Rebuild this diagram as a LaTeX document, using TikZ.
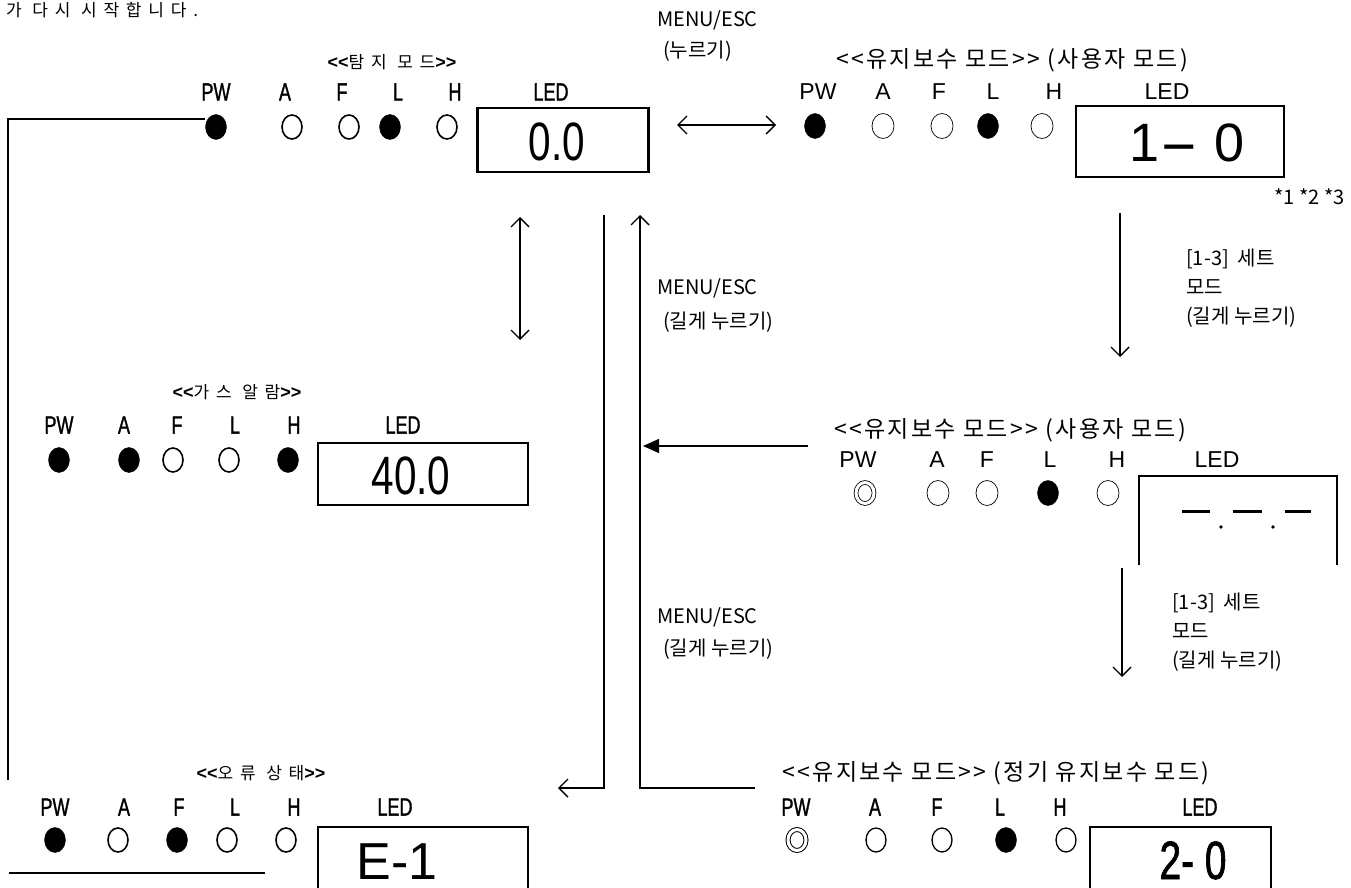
\documentclass[tikz,border=0pt]{standalone}
\usepackage{fontspec}
\setmainfont{Liberation Sans}
\newfontfamily\kr{Noto Sans CJK KR}
\newfontfamily\krt[LetterSpace=10]{Noto Sans CJK KR}
\newfontfamily\krsp[LetterSpace=40]{Noto Sans CJK KR}
\newfontfamily\cond[FakeStretch=0.72,FakeBold=1.2]{Liberation Sans}
\newfontfamily\condn[FakeStretch=0.75]{Liberation Sans}
\usetikzlibrary{arrows.meta,shapes.geometric}
\newcommand{\ltitle}[1]{{\bfseries\fontsize{18}{18}\selectfont<\kern0pt<}{\krsp #1}{\bfseries\fontsize{18}{18}\selectfont>\kern0pt>}}
\tikzset{
  lblc/.style={font=\cond\fontsize{25}{25}\selectfont, inner sep=0pt},
  lblt/.style={font=\fontsize{23}{23}\selectfont, inner sep=0pt},
  ttl/.style={font=\fontsize{17}{17}\selectfont, inner sep=0pt},
  ttlr/.style={font=\krt\fontsize{23}{23}\selectfont, inner sep=0pt},
  menu/.style={font=\kr\fontsize{20}{20}\selectfont, inner sep=0pt, anchor=west},
  note/.style={font=\kr\fontsize{20}{29}\selectfont, inner sep=0pt, align=left},
  ledon/.style={ellipse, draw, fill=black, minimum width=21pt, minimum height=25pt, inner sep=0pt},
  ledoff/.style={ellipse, draw, line width=1.6pt, minimum width=20pt, minimum height=24pt, inner sep=0pt},
  ledofft/.style={ellipse, draw, line width=0.7pt, minimum width=22pt, minimum height=25pt, inner sep=0pt},
  ledbl/.style={ellipse, draw, line width=0.8pt, double, double distance=3pt, minimum width=18pt, minimum height=21pt, inner sep=0pt},
  ledbox/.style={draw, line width=2.2pt, inner sep=0pt},
  openbox/.style={line width=2.2pt},
  conn/.style={line width=1.4pt},
  oarr/.style={conn, -{Straight Barb[length=9pt,width=18pt,line width=1.4pt]}},
  oarr2/.style={conn, {Straight Barb[length=9pt,width=18pt,line width=1.4pt]}-{Straight Barb[length=9pt,width=18pt,line width=1.4pt]}},
  farr/.style={conn, -{Triangle[length=16pt,width=14pt]}},
}
\begin{document}
\begin{tikzpicture}[x=1pt,y=-1pt]
\useasboundingbox (0,0) rectangle (1351,888);

% top cut-off sentence
\node[anchor=west, font=\krsp\fontsize{17}{17}\selectfont, inner sep=0pt] (topline) at (6,10) {가 다시 시작합니다.};

% ===== Panel 1: detection mode =====
\node[ttl] (t1) at (392,62) {\ltitle{탐지 모드}};
\node[lblc] (l1pw) at (216,92) {PW};
\node[lblc] (l1a) at (285,92) {A};
\node[lblc] (l1f) at (342,92) {F};
\node[lblc] (l1l) at (398,92) {L};
\node[lblc] (l1h) at (455,92) {H};
\node[lblc] (l1led) at (551,92) {LED};
\node[ledon] (c1pw) at (216,127) {};
\node[ledoff] (c1a) at (292,127) {};
\node[ledoff] (c1f) at (349,127) {};
\node[ledon] (c1l) at (390,127) {};
\node[ledoff] (c1h) at (447,127) {};
\node[ledbox, minimum width=171pt, minimum height=64pt] (b1) at (563,140) {};
\node[font=\condn\fontsize{54}{54}\selectfont, inner sep=0pt] (v1) at (557,142) {0.0};

% ===== Panel 2: maintenance (user) top =====
\node[menu] (menu0) at (657,20) {MENU/ESC};
\node[menu] (menu0b) at (663,51) {(누르기)};
\node[ttlr] (t2) at (1012,60) {<<유지보수 모드>> (사용자 모드)};
\node[lblt] (l2pw) at (818,92) {PW};
\node[lblt] (l2a) at (883,92) {A};
\node[lblt] (l2f) at (939,92) {F};
\node[lblt] (l2l) at (993,92) {L};
\node[lblt] (l2h) at (1054,92) {H};
\node[lblt] (l2led) at (1167,92) {LED};
\node[ledon] (c2pw) at (815,126) {};
\node[ledofft] (c2a) at (883,126) {};
\node[ledofft] (c2f) at (942,126) {};
\node[ledon] (c2l) at (988,126) {};
\node[ledofft] (c2h) at (1042,126) {};
\node[ledbox, minimum width=208pt, minimum height=71pt] (b2) at (1180,141.5) {};
\node[font=\fontsize{54}{54}\selectfont, inner sep=0pt] (v2) at (1187,143) {1\scalebox{2.2}[1]{-} 0};
\node[anchor=east, font=\kr\fontsize{20}{20}\selectfont, inner sep=0pt] (stars) at (1345,197) {*1 *2 *3};

% double arrow between panel 1 and panel 2
\coordinate (h1) at (677,125);
\coordinate (h2) at (776,125);
\draw[oarr2] (h1) -- (h2);

% down arrow to panel 3
\coordinate (dn1a) at (1120,213);
\coordinate (dn1b) at (1120,357);
\draw[oarr] (dn1a) -- (dn1b);
\node[note, anchor=north west] (n1) at (1186,249) {[1-3] \ 세트\\모드\\(길게 누르기)};

% ===== middle connectors =====
\coordinate (d1) at (520,217);
\coordinate (d2) at (520,340);
\draw[oarr2] (d1) -- (d2);

\coordinate (m1t) at (604,215);
\coordinate (m1b) at (604,788);
\coordinate (m1e) at (558,788);
\draw[oarr] (m1t) -- (m1b) -- (m1e);

\coordinate (m2a) at (755,788);
\coordinate (m2b) at (640,788);
\coordinate (m2t) at (640,215);
\draw[oarr] (m2a) -- (m2b) -- (m2t);

\node[menu] (menu1) at (657,288) {MENU/ESC};
\node[menu] (menu1b) at (663,322) {(길게 누르기)};
\node[menu] (menu2) at (657,617) {MENU/ESC};
\node[menu] (menu2b) at (663,649) {(길게 누르기)};

\coordinate (a1s) at (808,446);
\coordinate (a1e) at (643,446);
\draw[farr] (a1s) -- (a1e);

% ===== Panel 4: gas alarm =====
\node[ttl] (t4) at (237,392) {\ltitle{가스 알람}};
\node[lblc] (l4pw) at (59,425) {PW};
\node[lblc] (l4a) at (124,425) {A};
\node[lblc] (l4f) at (177,425) {F};
\node[lblc] (l4l) at (235,425) {L};
\node[lblc] (l4h) at (294,425) {H};
\node[lblc] (l4led) at (403,425) {LED};
\node[ledon] (c4pw) at (59,460) {};
\node[ledon] (c4a) at (129,460) {};
\node[ledoff] (c4f) at (173,460) {};
\node[ledoff] (c4l) at (229,460) {};
\node[ledon] (c4h) at (288,460) {};
\node[ledbox, minimum width=210pt, minimum height=62pt] (b4) at (423,474) {};
\node[font=\condn\fontsize{54}{54}\selectfont, inner sep=0pt] (v4) at (411,476) {40.0};

% ===== Panel 3: maintenance (user) middle =====
\node[ttlr] (t3) at (1010,430) {<<유지보수 모드>> (사용자 모드)};
\node[lblt] (l3pw) at (858,460) {PW};
\node[lblt] (l3a) at (937,460) {A};
\node[lblt] (l3f) at (987,460) {F};
\node[lblt] (l3l) at (1050,460) {L};
\node[lblt] (l3h) at (1117,460) {H};
\node[lblt] (l3led) at (1217,460) {LED};
\node[ledbl] (c3pw) at (865,493) {};
\node[ledofft] (c3a) at (938,493) {};
\node[ledofft] (c3f) at (987,493) {};
\node[ledon] (c3l) at (1048,493) {};
\node[ledofft] (c3h) at (1108,493) {};
\coordinate (b3a) at (1139,565);
\coordinate (b3b) at (1139,476);
\coordinate (b3c) at (1337,476);
\coordinate (b3d) at (1337,565);
\draw[openbox] (b3a) -- (b3b) -- (b3c) -- (b3d);
\coordinate (dsh1a) at (1182,511); \coordinate (dsh1b) at (1210,511);
\coordinate (dsh2a) at (1233,511); \coordinate (dsh2b) at (1262,511);
\coordinate (dsh3a) at (1285,511); \coordinate (dsh3b) at (1311,511);
\draw[line width=3pt] (dsh1a) -- (dsh1b) (dsh2a) -- (dsh2b) (dsh3a) -- (dsh3b);
\coordinate (dot1) at (1221,527);
\coordinate (dot2) at (1273,527);
\fill (dot1) circle (1.8pt) (dot2) circle (1.8pt);

% down arrow to panel 5
\coordinate (dn2a) at (1122,568);
\coordinate (dn2b) at (1122,677);
\draw[oarr] (dn2a) -- (dn2b);
\node[note, anchor=north west] (n2) at (1172,593) {[1-3] \ 세트\\모드\\(길게 누르기)};

% ===== Panel 6: error state =====
\node[ttl] (t6) at (261,773) {\ltitle{오류 상태}};
\node[lblc] (l6pw) at (55,807) {PW};
\node[lblc] (l6a) at (124,807) {A};
\node[lblc] (l6f) at (179,807) {F};
\node[lblc] (l6l) at (235,807) {L};
\node[lblc] (l6h) at (294,807) {H};
\node[lblc] (l6led) at (395,807) {LED};
\node[ledon] (c6pw) at (55,840) {};
\node[ledoff] (c6a) at (118,840) {};
\node[ledon] (c6f) at (177,840) {};
\node[ledoff] (c6l) at (227,840) {};
\node[ledoff] (c6h) at (286,840) {};
\coordinate (b6a) at (318,890);
\coordinate (b6b) at (318,827);
\coordinate (b6c) at (528,827);
\coordinate (b6d) at (528,890);
\draw[openbox] (b6a) -- (b6b) -- (b6c) -- (b6d);
\node[font=\fontsize{52}{52}\selectfont, inner sep=0pt, anchor=base] (e6) at (397,879) {E-1};
\coordinate (ul1) at (9,873);
\coordinate (ul2) at (265,873);
\draw[line width=2pt] (ul1) -- (ul2);

% left return line from panel 6 region to panel 1
\coordinate (lb) at (8,780);
\coordinate (lt) at (8,119);
\draw[conn] (lb) -- (lt) -- (lt -| c1pw.west);

% ===== Panel 5: maintenance (periodic) =====
\node[ttlr] (t5) at (996,773) {<<유지보수 모드>> (정기 유지보수 모드)};
\node[lblc] (l5pw) at (796,807) {PW};
\node[lblc] (l5a) at (875,807) {A};
\node[lblc] (l5f) at (937,807) {F};
\node[lblc] (l5l) at (1000,807) {L};
\node[lblc] (l5h) at (1060,807) {H};
\node[lblc] (l5led) at (1200,807) {LED};
\node[ledbl, line width=1pt] (c5pw) at (797,840) {};
\node[ledoff, line width=1.3pt] (c5a) at (876,840) {};
\node[ledoff, line width=1.3pt] (c5f) at (942,840) {};
\node[ledon] (c5l) at (1006,840) {};
\node[ledoff, line width=1.3pt] (c5h) at (1066,840) {};
\coordinate (b5a) at (1090,890);
\coordinate (b5b) at (1090,827);
\coordinate (b5c) at (1271,827);
\coordinate (b5d) at (1271,890);
\draw[openbox] (b5a) -- (b5b) -- (b5c) -- (b5d);
\node[font=\cond\fontsize{54}{54}\selectfont, inner sep=0pt, anchor=base] (e5) at (1193,879) {2- 0};
\end{tikzpicture}
\end{document}
